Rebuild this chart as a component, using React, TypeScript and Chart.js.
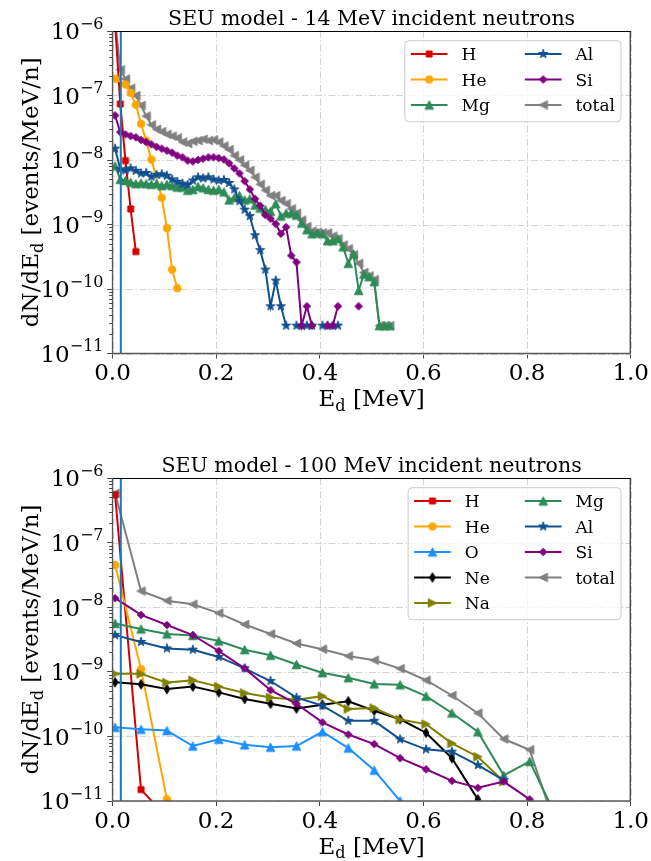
import React, { useEffect, useRef } from 'react';
import { Chart, registerables } from 'chart.js';

Chart.register(...registerables);

const SERIF = "'DejaVu Serif', serif";

// ---------------- text ----------------
const TITLE_14 = 'SEU model - 14 MeV incident neutrons';
const TITLE_100 = 'SEU model - 100 MeV incident neutrons';
const X_LABEL_PARTS = ['E', 'd', ' [MeV]'];
const Y_LABEL_PARTS = ['dN/dE', 'd', ' [events/MeV/n]'];
const X_TICKS = [0, 0.2, 0.4, 0.6, 0.8, 1.0];
const Y_DECADES = [-11, -10, -9, -8, -7, -6];
const VLINE_X = 0.016;

// ---------------- 14 MeV data ----------------
const X14_H = [0.005, 0.015, 0.025, 0.035, 0.045];
const H14 = [1.3e-6, 7.4e-8, 9.8e-9, 1.74e-9, 3.8e-10];

const X14_HE = [0.005, 0.025, 0.035, 0.045, 0.055, 0.065, 0.075, 0.095, 0.105, 0.115, 0.125];
const HE14 = [1.82e-7, 1.48e-7, 1.1e-7, 7.2e-8, 3.64e-8, 2.0e-8, 1.02e-8, 2.6e-9, 8.8e-10, 2.0e-10, 1.03e-10];

const X14 = [
  0.005, 0.015, 0.025, 0.035, 0.045, 0.055, 0.065, 0.075, 0.085, 0.095,
  0.105, 0.115, 0.125, 0.135, 0.145, 0.155, 0.165, 0.175, 0.185, 0.195,
  0.205, 0.215, 0.225, 0.235, 0.245, 0.255, 0.265, 0.275, 0.285, 0.295,
  0.305, 0.315, 0.325, 0.335, 0.345, 0.355, 0.365, 0.375, 0.385, 0.395,
  0.405, 0.415, 0.425, 0.435, 0.445, 0.455, 0.465, 0.475, 0.485, 0.495,
  0.505, 0.515, 0.525, 0.535,
];
const MG14 = [
  8.1e-9, 5.0e-9, 4.8e-9, 4.5e-9, 4.3e-9, 4.4e-9, 4.3e-9, 4.2e-9, 4.3e-9, 4.0e-9,
  4.2e-9, 4.0e-9, 3.8e-9, 3.8e-9, 3.4e-9, 3.5e-9, 3.9e-9, 3.7e-9, 3.5e-9, 3.4e-9,
  3.5e-9, 3.2e-9, 2.4e-9, 2.6e-9, 2.8e-9, 2.4e-9, 2.5e-9, 2.0e-9, 1.8e-9, 1.7e-9,
  1.6e-9, 2.1e-9, 1.35e-9, 1.5e-9, 1.5e-9, 1.4e-9, 1.05e-9, 8.3e-10, 7.2e-10, 7.4e-10,
  7.2e-10, 5.6e-10, 5.6e-10, 6.0e-10, 4.5e-10, 2.5e-10, 3.5e-10, 9.5e-11, 1.7e-10, 1.55e-10,
  1.3e-10, 2.7e-11, 2.7e-11, 2.7e-11,
];
const AL14 = [
  1.5e-8, 7.2e-9, 6.9e-9, 7.4e-9, 6.8e-9, 6.2e-9, 6.3e-9, 5.5e-9, 5.9e-9, 6.0e-9,
  5.7e-9, 5.0e-9, 4.6e-9, 4.3e-9, 4.1e-9, 4.8e-9, 5.4e-9, 5.2e-9, 5.4e-9, 5.0e-9,
  4.8e-9, 4.9e-9, 4.4e-9, 3.5e-9, 2.3e-9, 1.7e-9, 1.35e-9, 6.8e-10, 4.0e-10, 2.0e-10,
  5.4e-11, 1.35e-10, 5.4e-11, 2.7e-11, null, 2.7e-11, 2.7e-11, 2.7e-11, 2.7e-11, null,
  2.7e-11, 2.7e-11, 2.7e-11, 2.7e-11, null, null, null, null, null, null,
  null, null, null, null,
];
const SI14 = [
  4.9e-8, 2.7e-8, 2.5e-8, 2.35e-8, 2.25e-8, 2.05e-8, 1.9e-8, 1.75e-8, 1.6e-8, 1.5e-8,
  1.4e-8, 1.3e-8, 1.17e-8, 1.1e-8, 9.8e-9, 9.5e-9, 1.0e-8, 1.05e-8, 1.1e-8, 1.1e-8,
  1.07e-8, 1.02e-8, 8.9e-9, 7.4e-9, 6.2e-9, 4.7e-9, 3.5e-9, 2.5e-9, 1.95e-9, 1.4e-9,
  1.23e-9, 1.02e-9, 7.2e-10, 9.1e-10, 3.3e-10, 2.6e-10, 2.7e-11, 5.4e-11, 2.7e-11, null,
  null, 2.7e-11, 2.7e-11, 5.4e-11, null, null, null, 5.4e-11, null, null,
  null, null, null, null,
];
const TOTAL14 = [
  1.5e-6, 2.5e-7, 1.8e-7, 1.3e-7, 1.0e-7, 7.0e-8, 4.8e-8, 3.5e-8, 3.0e-8, 2.75e-8,
  2.5e-8, 2.35e-8, 2.2e-8, 1.9e-8, 1.8e-8, 1.95e-8, 2.0e-8, 2.1e-8, 2.0e-8, 2.05e-8,
  1.9e-8, 1.65e-8, 1.45e-8, 1.17e-8, 1.0e-8, 8.3e-9, 6.9e-9, 5.4e-9, 4.2e-9, 3.4e-9,
  2.8e-9, 2.8e-9, 2.35e-9, 2.1e-9, 1.75e-9, 1.5e-9, 1.17e-9, 9.3e-10, 7.9e-10, 7.6e-10,
  7.4e-10, 7.4e-10, 6.6e-10, 6.0e-10, 4.8e-10, 4.2e-10, 3.4e-10, 2.5e-10, 1.8e-10, 1.6e-10,
  1.4e-10, 2.7e-11, 2.7e-11, 2.7e-11,
];

// ---------------- 100 MeV data ----------------
const X100 = [
  0.005, 0.055, 0.105, 0.155, 0.205, 0.255, 0.305, 0.355, 0.405,
  0.455, 0.505, 0.555, 0.605, 0.655, 0.705, 0.755, 0.805, 0.855,
];
const H100 = [5.5e-7, 1.5e-11, 5.6e-12];
const HE100 = [4.5e-8, 1.1e-9, 1.06e-11];
const O100 = [1.38e-10, 1.29e-10, 1.23e-10, 7.1e-11, 9.0e-11, 7.4e-11, 6.8e-11, 7.1e-11, 1.18e-10, 6.6e-11, 3.0e-11, 1.0e-11];
const NE100 = [6.9e-10, 6.4e-10, 5.4e-10, 5.9e-10, 4.8e-10, 3.8e-10, 3.2e-10, 2.7e-10, 3.1e-10, 3.5e-10, 2.5e-10, 1.84e-10, 1.14e-10, 4.6e-11, 1.06e-11];
const NA100 = [9.3e-10, 9.3e-10, 6.8e-10, 7.4e-10, 5.9e-10, 4.7e-10, 4.0e-10, 3.7e-10, 4.2e-10, 2.66e-10, 2.74e-10, 1.82e-10, 1.55e-10, 7.8e-11, 4.85e-11, 2.0e-11];
const MG100 = [5.6e-9, 4.6e-9, 3.85e-9, 3.65e-9, 3.0e-9, 2.2e-9, 1.8e-9, 1.3e-9, 9.7e-10, 8.1e-10, 6.5e-10, 6.3e-10, 4.2e-10, 2.3e-10, 1.18e-10, 2.5e-11, 4.1e-11, 6e-12];
const AL100 = [3.7e-9, 2.9e-9, 2.3e-9, 2.2e-9, 1.7e-9, 1.13e-9, 7.2e-10, 4.0e-10, 3.0e-10, 1.74e-10, 1.74e-10, 9.0e-11, 6.3e-11, 5.8e-11, 3.6e-11, 2.1e-11];
const SI100 = [1.38e-8, 7.6e-9, 5.3e-9, 3.7e-9, 2.1e-9, 1.13e-9, 5.2e-10, 3.2e-10, 1.65e-10, 1.07e-10, 7.6e-11, 4.6e-11, 3.1e-11, 2.05e-11, 1.6e-11, 2.0e-11, 1.06e-11];
const TOTAL100 = [5.8e-7, 1.78e-8, 1.26e-8, 1.11e-8, 8.1e-9, 5.4e-9, 3.85e-9, 2.75e-9, 2.24e-9, 1.76e-9, 1.51e-9, 1.12e-9, 7.4e-10, 4.3e-10, 2.29e-10, 9.1e-11, 6.2e-11, 4e-12];

// ---------------- styles ----------------
type MarkerKind = 'square' | 'circle' | 'triUp' | 'triLeft' | 'triRight' | 'diamond' | 'thinDiamond' | 'star';
const STYLES: Record<string, { color: string; marker: MarkerKind; size: number; order: number }> = {
  H: { color: '#d40000', marker: 'square', size: 6, order: 8 },
  He: { color: '#ffa500', marker: 'circle', size: 7.5, order: 7 },
  O: { color: '#1e90ff', marker: 'triUp', size: 8.5, order: 6 },
  Ne: { color: '#000000', marker: 'thinDiamond', size: 9.5, order: 5 },
  Na: { color: '#808000', marker: 'triRight', size: 8.5, order: 4 },
  Mg: { color: '#2e8b57', marker: 'triUp', size: 8.5, order: 3 },
  Al: { color: '#11508e', marker: 'star', size: 9.5, order: 2 },
  Si: { color: '#800080', marker: 'diamond', size: 7.5, order: 1 },
  total: { color: '#808080', marker: 'triLeft', size: 8.5, order: 9 },
};

function makeMarker(kind: MarkerKind, color: string, size: number): HTMLCanvasElement {
  const d = Math.ceil(size + 4);
  const cv = document.createElement('canvas');
  cv.width = d;
  cv.height = d;
  const g = cv.getContext('2d')!;
  const c = d / 2;
  const r = size / 2;
  g.beginPath();
  switch (kind) {
    case 'square':
      g.rect(c - r, c - r, size, size);
      break;
    case 'circle':
      g.arc(c, c, r, 0, Math.PI * 2);
      break;
    case 'triUp':
      g.moveTo(c, c - r); g.lineTo(c + r, c + r); g.lineTo(c - r, c + r);
      break;
    case 'triLeft':
      g.moveTo(c - r, c); g.lineTo(c + r, c - r); g.lineTo(c + r, c + r);
      break;
    case 'triRight':
      g.moveTo(c + r, c); g.lineTo(c - r, c - r); g.lineTo(c - r, c + r);
      break;
    case 'diamond':
      g.moveTo(c, c - r); g.lineTo(c + r, c); g.lineTo(c, c + r); g.lineTo(c - r, c);
      break;
    case 'thinDiamond':
      g.moveTo(c, c - r); g.lineTo(c + r * 0.6, c); g.lineTo(c, c + r); g.lineTo(c - r * 0.6, c);
      break;
    case 'star': {
      const ri = r * 0.382;
      for (let i = 0; i < 10; i++) {
        const rr = i % 2 === 0 ? r : ri;
        const ang = -Math.PI / 2 + (i * Math.PI) / 5;
        const px = c + rr * Math.cos(ang);
        const py = c + rr * Math.sin(ang);
        if (i === 0) g.moveTo(px, py); else g.lineTo(px, py);
      }
      break;
    }
  }
  g.closePath();
  g.fillStyle = color;
  g.fill();
  g.strokeStyle = color;
  g.lineWidth = 1;
  g.stroke();
  return cv;
}

type Series = { name: string; xs: number[]; ys: (number | null)[] };

type PanelCfg = {
  height: number;
  top: number;
  bottom: number;
  title: string;
  series: Series[];
  legend: string[][];
};

const PANEL_14: PanelCfg = {
  height: 430,
  top: 31,
  bottom: 353.5,
  title: TITLE_14,
  series: [
    { name: 'H', xs: X14_H, ys: H14 },
    { name: 'He', xs: X14_HE, ys: HE14 },
    { name: 'Mg', xs: X14, ys: MG14 },
    { name: 'Al', xs: X14, ys: AL14 },
    { name: 'Si', xs: X14, ys: SI14 },
    { name: 'total', xs: X14, ys: TOTAL14 },
  ],
  legend: [['H', 'He', 'Mg'], ['Al', 'Si', 'total']],
};

const PANEL_100: PanelCfg = {
  height: 431,
  top: 48,
  bottom: 371,
  title: TITLE_100,
  series: [
    { name: 'H', xs: X100, ys: H100 },
    { name: 'He', xs: X100, ys: HE100 },
    { name: 'O', xs: X100, ys: O100 },
    { name: 'Ne', xs: X100, ys: NE100 },
    { name: 'Na', xs: X100, ys: NA100 },
    { name: 'Mg', xs: X100, ys: MG100 },
    { name: 'Al', xs: X100, ys: AL100 },
    { name: 'Si', xs: X100, ys: SI100 },
    { name: 'total', xs: X100, ys: TOTAL100 },
  ],
  legend: [['H', 'He', 'O', 'Ne', 'Na'], ['Mg', 'Al', 'Si', 'total']],
};

const TICK_FS = 23;
const SUP_FS = 16;
const TITLE_FS = 20.5;
const LABEL_FS = 23;
const YLABEL_FS = 23;
const LEGEND_FS = 17;

type Part = { t: string; size: number; dy: number };

function richWidth(ctx: CanvasRenderingContext2D, parts: Part[]) {
  let w = 0;
  for (const p of parts) {
    ctx.font = `${p.size}px ${SERIF}`;
    w += ctx.measureText(p.t).width;
  }
  return w;
}
function drawRich(ctx: CanvasRenderingContext2D, parts: Part[], x: number, y: number) {
  let cx = x;
  for (const p of parts) {
    ctx.font = `${p.size}px ${SERIF}`;
    ctx.fillText(p.t, cx, y + p.dy);
    cx += ctx.measureText(p.t).width;
  }
}

function makePlugin(cfg: PanelCfg, markers: Record<string, HTMLCanvasElement>) {
  return {
    id: 'deco',
    beforeDatasetsDraw(chart: any) {
      const { ctx, chartArea: a, scales } = chart;
      const xs = scales.x;
      const ys = scales.y;
      ctx.save();
      ctx.strokeStyle = '#d3d3d3';
      ctx.lineWidth = 1;
      ctx.setLineDash([7, 2.5, 1.5, 2.5]);
      for (const v of X_TICKS) {
        const px = Math.round(xs.getPixelForValue(v)) + 0.5;
        ctx.beginPath(); ctx.moveTo(px, a.top); ctx.lineTo(px, a.bottom); ctx.stroke();
      }
      for (const d of Y_DECADES) {
        const py = Math.round(ys.getPixelForValue(Math.pow(10, d))) + 0.5;
        ctx.beginPath(); ctx.moveTo(a.left, py); ctx.lineTo(a.right, py); ctx.stroke();
      }
      ctx.restore();
    },
    afterDraw(chart: any) {
      const { ctx, chartArea: a, scales } = chart;
      const ys = scales.y;
      ctx.save();
      // spines
      ctx.setLineDash([]);
      ctx.strokeStyle = '#000';
      ctx.lineWidth = 1;
      ctx.beginPath();
      ctx.moveTo(a.left, a.top + 0.5); ctx.lineTo(a.right, a.top + 0.5);
      ctx.moveTo(a.right - 0.5, a.top); ctx.lineTo(a.right - 0.5, a.bottom);
      ctx.stroke();
      ctx.strokeStyle = '#5a5a5a';
      ctx.lineWidth = 1.3;
      ctx.beginPath();
      ctx.moveTo(a.left, a.top); ctx.lineTo(a.left, a.bottom);
      ctx.moveTo(a.left, a.bottom); ctx.lineTo(a.right, a.bottom);
      ctx.stroke();
      // minor y ticks
      ctx.strokeStyle = '#444';
      ctx.lineWidth = 1;
      ctx.beginPath();
      for (let d = -11; d < -6; d++) {
        for (let k = 2; k <= 9; k++) {
          const py = Math.round(ys.getPixelForValue(k * Math.pow(10, d))) + 0.5;
          ctx.moveTo(a.left - 3.3, py); ctx.lineTo(a.left, py);
        }
      }
      ctx.stroke();
      // y tick labels
      ctx.fillStyle = '#000';
      ctx.textAlign = 'left';
      ctx.textBaseline = 'alphabetic';
      for (const d of Y_DECADES) {
        const py = ys.getPixelForValue(Math.pow(10, d));
        const sup = '\u2212' + Math.abs(d);
        ctx.font = `${SUP_FS}px ${SERIF}`;
        const ws = ctx.measureText(sup).width;
        ctx.font = `${TICK_FS}px ${SERIF}`;
        const wb = ctx.measureText('10').width;
        const right = a.left - 9;
        ctx.fillText('10', right - ws - wb, py + 8.4);
        ctx.font = `${SUP_FS}px ${SERIF}`;
        ctx.fillText(sup, right - ws, py - 2.5);
      }
      // title
      const cx = (a.left + a.right) / 2;
      ctx.font = `${TITLE_FS}px ${SERIF}`;
      ctx.textAlign = 'center';
      ctx.fillText(cfg.title, cx, a.top - 6);
      ctx.textAlign = 'left';
      // x label
      const xParts: Part[] = [
        { t: X_LABEL_PARTS[0], size: LABEL_FS, dy: 0 },
        { t: X_LABEL_PARTS[1], size: LABEL_FS * 0.7, dy: 4.5 },
        { t: X_LABEL_PARTS[2], size: LABEL_FS, dy: 0 },
      ];
      const xw = richWidth(ctx, xParts);
      drawRich(ctx, xParts, cx - xw / 2, a.bottom + 52.5);
      // y label
      const yParts: Part[] = [
        { t: Y_LABEL_PARTS[0], size: YLABEL_FS, dy: 0 },
        { t: Y_LABEL_PARTS[1], size: YLABEL_FS * 0.7, dy: 4.5 },
        { t: Y_LABEL_PARTS[2], size: YLABEL_FS, dy: 0 },
      ];
      const yw = richWidth(ctx, yParts);
      ctx.save();
      ctx.translate(38, (a.top + a.bottom) / 2);
      ctx.rotate(-Math.PI / 2);
      drawRich(ctx, yParts, -yw / 2, 0);
      ctx.restore();
      // legend
      const HL = 36.7, TP = 14, CS = 35, BP = 6, RH = 25.5, FIRST = 13.3;
      ctx.font = `${LEGEND_FS}px ${SERIF}`;
      const colW = cfg.legend.map((col) => Math.max(...col.map((n) => ctx.measureText(n).width)));
      let w = BP * 2 + CS * (cfg.legend.length - 1);
      colW.forEach((cw) => { w += HL + TP + cw; });
      const nRows = Math.max(...cfg.legend.map((c) => c.length));
      const h = 4.5 + nRows * RH;
      const bx = a.right - 9.7 - w;
      const by = a.top + 9.7;
      const rad = 4;
      ctx.beginPath();
      ctx.moveTo(bx + rad, by);
      ctx.lineTo(bx + w - rad, by);
      ctx.arcTo(bx + w, by, bx + w, by + rad, rad);
      ctx.lineTo(bx + w, by + h - rad);
      ctx.arcTo(bx + w, by + h, bx + w - rad, by + h, rad);
      ctx.lineTo(bx + rad, by + h);
      ctx.arcTo(bx, by + h, bx, by + h - rad, rad);
      ctx.lineTo(bx, by + rad);
      ctx.arcTo(bx, by, bx + rad, by, rad);
      ctx.closePath();
      ctx.fillStyle = 'rgba(255,255,255,0.8)';
      ctx.fill();
      ctx.strokeStyle = '#cccccc';
      ctx.lineWidth = 1;
      ctx.stroke();
      let colX = bx + BP;
      cfg.legend.forEach((col, ci) => {
        col.forEach((name, ri) => {
          const st = STYLES[name];
          const ly = by + FIRST + ri * RH;
          ctx.strokeStyle = st.color;
          ctx.lineWidth = 2;
          ctx.beginPath();
          ctx.moveTo(colX, ly); ctx.lineTo(colX + HL, ly);
          ctx.stroke();
          const m = markers[name];
          ctx.drawImage(m, colX + HL / 2 - m.width / 2, ly - m.height / 2);
          ctx.fillStyle = '#000';
          ctx.font = `${LEGEND_FS}px ${SERIF}`;
          ctx.fillText(name, colX + HL + TP, ly + 6.2);
        });
        colX += HL + TP + colW[ci] + CS;
      });
      ctx.restore();
    },
  };
}

function buildConfig(cfg: PanelCfg): any {
  const markers: Record<string, HTMLCanvasElement> = {};
  for (const k of Object.keys(STYLES)) {
    markers[k] = makeMarker(STYLES[k].marker, STYLES[k].color, STYLES[k].size);
  }
  const datasets: any[] = cfg.series.map((s) => {
    const st = STYLES[s.name];
    return {
      label: s.name,
      data: s.ys.map((y, i) => ({ x: s.xs[i], y })),
      borderColor: st.color,
      backgroundColor: st.color,
      borderWidth: 2,
      pointStyle: markers[s.name],
      pointRadius: 4,
      pointHoverRadius: 4,
      fill: false,
      tension: 0,
      spanGaps: false,
      order: st.order,
    };
  });
  datasets.push({
    label: 'threshold',
    data: [{ x: VLINE_X, y: 1e-11 }, { x: VLINE_X, y: 1e-6 }],
    borderColor: '#1f77b4',
    borderWidth: 2,
    pointRadius: 0,
    fill: false,
    order: 0,
  });
  const xAxisH = cfg.height - cfg.bottom;
  return {
    type: 'line',
    data: { datasets },
    options: {
      animation: false,
      responsive: false,
      maintainAspectRatio: false,
      events: [],
      layout: { padding: { left: 0, right: 18, top: cfg.top, bottom: 0 } },
      plugins: { legend: { display: false }, tooltip: { enabled: false }, title: { display: false } },
      scales: {
        x: {
          type: 'linear',
          min: 0,
          max: 1,
          position: 'bottom',
          afterBuildTicks: (s: any) => { s.ticks = X_TICKS.map((v) => ({ value: v })); },
          afterFit: (s: any) => { s.height = xAxisH; },
          ticks: {
            font: { family: SERIF, size: TICK_FS },
            color: '#000',
            padding: 2,
            maxRotation: 0,
            autoSkip: false,
            callback: (v: any) => Number(v).toFixed(1),
          },
          grid: { drawOnChartArea: false, drawTicks: true, tickLength: 5, tickColor: '#444', tickWidth: 1, color: 'rgba(0,0,0,0)' },
          border: { display: false },
        },
        y: {
          type: 'logarithmic',
          min: 1e-11,
          max: 1e-6,
          position: 'left',
          afterBuildTicks: (s: any) => { s.ticks = Y_DECADES.map((d) => ({ value: Math.pow(10, d) })); },
          afterFit: (s: any) => { s.width = 112.5; },
          ticks: { display: false },
          grid: { drawOnChartArea: false, drawTicks: true, tickLength: 5.3, tickColor: '#444', tickWidth: 1, color: 'rgba(0,0,0,0)' },
          border: { display: false },
        },
      },
    },
    plugins: [makePlugin(cfg, markers)],
  };
}

function Panel({ cfg }: { cfg: PanelCfg }) {
  const ref = useRef<HTMLCanvasElement>(null);
  useEffect(() => {
    const chart = new Chart(ref.current!, buildConfig(cfg));
    return () => chart.destroy();
  }, [cfg]);
  return (
    <canvas
      ref={ref}
      width={651}
      height={cfg.height}
      style={{ display: 'block', width: 651, height: cfg.height }}
    />
  );
}

export default function App() {
  return (
    <div style={{ position: 'fixed', left: 0, top: 0, width: 651, height: 861, background: '#fff' }}>
      <Panel cfg={PANEL_14} />
      <Panel cfg={PANEL_100} />
    </div>
  );
}
